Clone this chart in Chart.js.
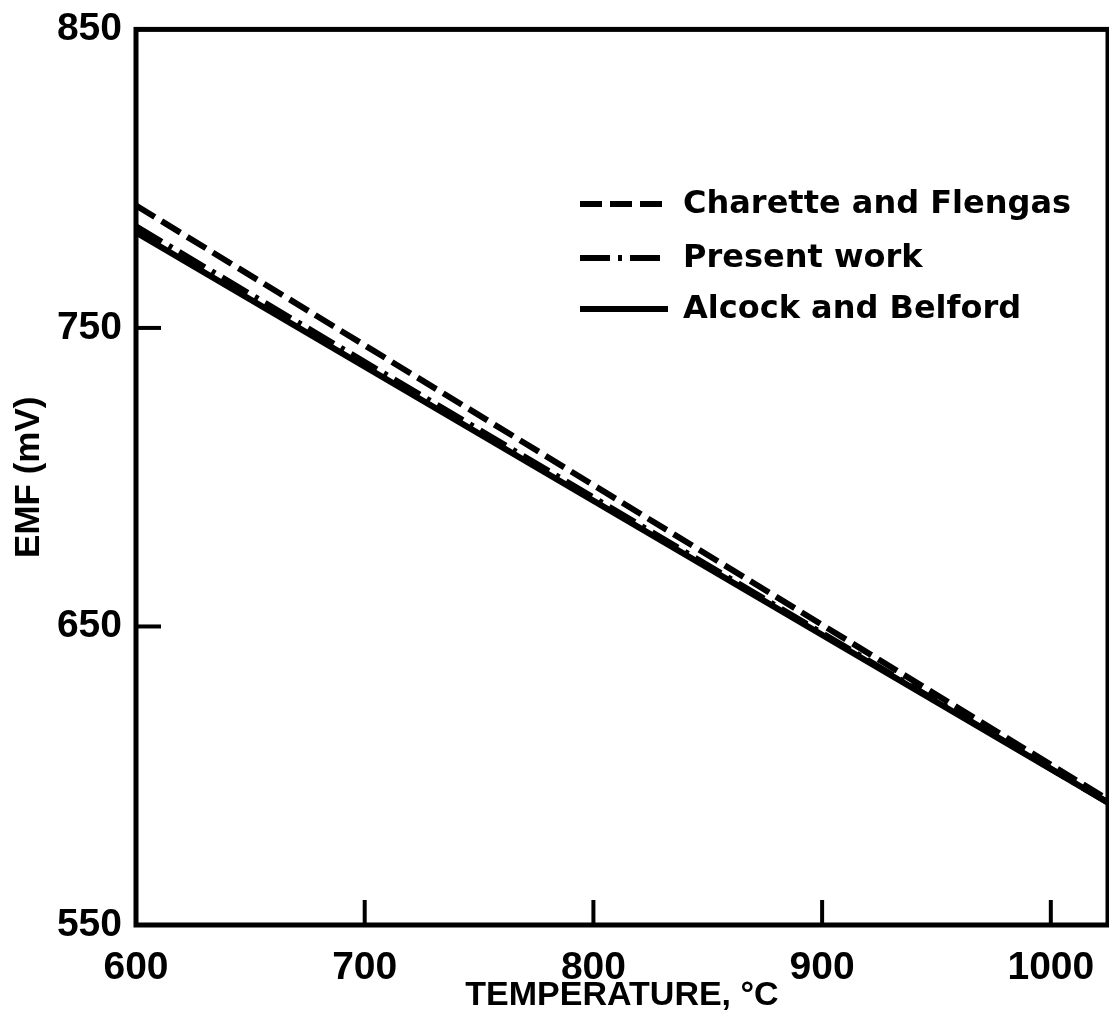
<!DOCTYPE html>
<html>
<head>
<meta charset="utf-8">
<script src="https://cdn.jsdelivr.net/npm/chart.js@4"></script>
<style>
  html, body { margin: 0; padding: 0; background: #fff; }
  canvas { display: block; }
</style>
</head>
<body>
<canvas id="emfChart" width="1109" height="1016"></canvas>
<script>
// Data
const temperatures = [600, 1025];
const charetteFlengas = [791, 592];
const presentWork = [784, 591];
const alcockBelford = [782, 591];

const xTicks = [600, 700, 800, 900, 1000];
const yTicks = [550, 650, 750, 850];

const seriesLabels = ['Charette and Flengas', 'Present work', 'Alcock and Belford'];

function toPoints(values) {
    return temperatures.map((t, i) => ({ x: t, y: values[i] }));
}

// Frame, inward ticks and legend drawn on top of the chart area
const framePlugin = {
    id: 'frame',
    afterDatasetsDraw(chart) {
        const ctx = chart.ctx;
        const area = chart.chartArea;
        const xs = chart.scales.x;
        const ys = chart.scales.y;
        ctx.save();
        ctx.strokeStyle = '#000';
        ctx.lineWidth = 5;
        ctx.strokeRect(area.left, area.top, area.right - area.left, area.bottom - area.top);

        ctx.lineWidth = 4;
        xTicks.slice(1).forEach(v => {
            const px = xs.getPixelForValue(v);
            ctx.beginPath();
            ctx.moveTo(px, area.bottom);
            ctx.lineTo(px, area.bottom - 25);
            ctx.stroke();
        });
        yTicks.slice(1, -1).forEach(v => {
            const py = ys.getPixelForValue(v);
            ctx.beginPath();
            ctx.moveTo(area.left, py);
            ctx.lineTo(area.left + 25, py);
            ctx.stroke();
        });

        // legend
        const rows = [204, 258, 309];
        ctx.font = 'bold 32px "DejaVu Sans"';
        ctx.fillStyle = '#000';
        ctx.textBaseline = 'middle';
        chart.data.datasets.forEach((ds, i) => {
            ctx.lineWidth = 6;
            ctx.setLineDash(ds.borderDash || []);
            ctx.beginPath();
            ctx.moveTo(580, rows[i]);
            ctx.lineTo(668, rows[i]);
            ctx.stroke();
            ctx.setLineDash([]);
            ctx.fillText(ds.label, 683, rows[i] + 1);
        });
        ctx.restore();
    }
};

const ctx = document.getElementById('emfChart').getContext('2d');
new Chart(ctx, {
    type: 'line',
    data: {
        datasets: [
            {
                label: seriesLabels[0],
                data: toPoints(charetteFlengas),
                borderColor: '#000',
                borderWidth: 6,
                borderDash: [22, 8],
                pointRadius: 0
            },
            {
                label: seriesLabels[1],
                data: toPoints(presentWork),
                borderColor: '#000',
                borderWidth: 6,
                borderDash: [30, 8, 4, 8],
                pointRadius: 0
            },
            {
                label: seriesLabels[2],
                data: toPoints(alcockBelford),
                borderColor: '#000',
                borderWidth: 6,
                pointRadius: 0
            }
        ]
    },
    options: {
        responsive: false,
        animation: false,
        devicePixelRatio: 1,
        layout: { padding: { top: 29, right: 1, left: 0, bottom: 0 } },
        plugins: {
            legend: { display: false },
            tooltip: { enabled: false }
        },
        scales: {
            x: {
                type: 'linear',
                min: 600,
                max: 1025,
                afterBuildTicks: scale => { scale.ticks = xTicks.map(v => ({ value: v })); },
                afterFit: scale => { scale.height = 91; },
                grid: { display: false },
                border: { display: false },
                ticks: {
                    color: '#000',
                    padding: 12,
                    maxRotation: 0,
                    callback: v => String(v),
                    font: { family: '"Liberation Sans"', size: 39, weight: 'bold' }
                },
                title: {
                    display: true,
                    text: 'TEMPERATURE, °C',
                    color: '#000',
                    padding: { top: 0, bottom: 0 },
                    font: { family: '"Liberation Sans"', size: 34, weight: 'bold' }
                }
            },
            y: {
                min: 550,
                max: 850,
                afterBuildTicks: scale => { scale.ticks = yTicks.map(v => ({ value: v })); },
                afterFit: scale => { scale.width = 136; },
                grid: { display: false },
                border: { display: false },
                ticks: {
                    color: '#000',
                    padding: 6,
                    callback: v => String(v),
                    font: { family: '"Liberation Sans"', size: 39, weight: 'bold' }
                },
                title: {
                    display: true,
                    text: 'EMF (mV)',
                    color: '#000',
                    padding: { top: 8, bottom: 0 },
                    font: { family: '"Liberation Sans"', size: 35, weight: 'bold' }
                }
            }
        }
    },
    plugins: [framePlugin]
});
</script>
</body>
</html>
